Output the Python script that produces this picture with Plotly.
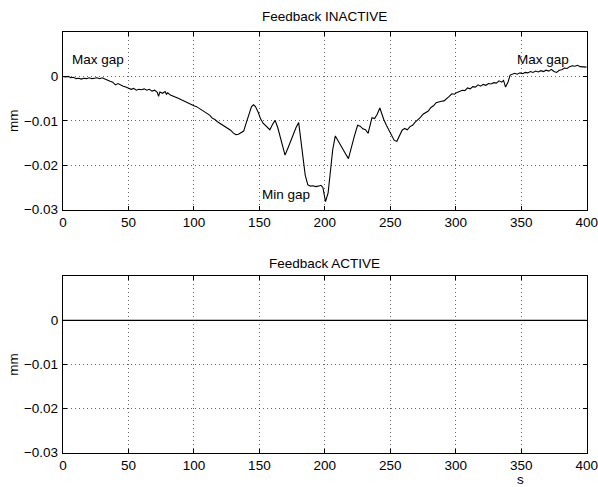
import plotly.graph_objects as go

# ---- data ----
t_inactive = [0, 2, 4, 6, 8, 10, 12, 14, 16, 18, 20, 22, 24, 26, 28, 30, 32, 34, 36, 38,
              40, 42, 44, 46, 48, 50, 52, 54, 56, 58, 60, 62, 64, 66, 68, 70, 72, 73, 74, 76,
              78, 79, 80, 82, 84, 86, 88, 90, 92, 94, 96, 98, 100, 102, 104, 106, 108, 110, 112, 114,
              116, 118, 120, 122, 124, 126, 128, 130, 132, 134, 136, 138, 140, 142, 144, 145.5, 147, 149, 151, 153,
              155.5, 158, 160, 162, 164, 166, 168, 169.6, 172, 175, 178, 180, 182, 184, 185, 187, 189, 191, 193, 195,
              197, 198.5, 200.5, 202.5, 204, 206, 208, 210, 213, 216, 218, 220, 222.5, 225, 227, 229, 231, 233, 235, 236,
              238, 240, 242, 243.5, 245, 247, 249, 251, 253, 255, 257, 259, 261, 263, 265, 267, 269, 271, 273, 275,
              277, 279, 281, 283, 285, 287, 289, 291, 293, 295, 297, 299, 301, 303, 305, 307, 309, 311, 313, 315,
              317, 319, 321, 323, 325, 327, 329, 331, 333, 335, 336.5, 338, 340, 341.5, 343, 345, 347, 349, 351, 353,
              355, 357, 359, 361, 363, 365, 367, 369, 371, 373, 375, 377, 379, 381, 383, 385, 387, 389, 391, 393,
              395, 397, 400]
gap_inactive = [0.0000, -0.0001, 0.0000, -0.0003, -0.0002, -0.0005, -0.0004, -0.0006, -0.0004, -0.0005,
                -0.0003, -0.0005, -0.0004, -0.0003, -0.0005, -0.0003, -0.0006, -0.0009, -0.0011, -0.0013,
                -0.0019, -0.0016, -0.0020, -0.0022, -0.0024, -0.0027, -0.0029, -0.0027, -0.0031, -0.0029,
                -0.0030, -0.0028, -0.0031, -0.0029, -0.0033, -0.0031, -0.0036, -0.0045, -0.0035, -0.0038,
                -0.0034, -0.0040, -0.0037, -0.0042, -0.0044, -0.0047, -0.0049, -0.0052, -0.0055, -0.0058,
                -0.0060, -0.0063, -0.0066, -0.0068, -0.0072, -0.0074, -0.0079, -0.0083, -0.0087, -0.0094,
                -0.0097, -0.0102, -0.0106, -0.0108, -0.0113, -0.0117, -0.0121, -0.0127, -0.0131, -0.0130,
                -0.0127, -0.0123, -0.0104, -0.0085, -0.0068, -0.0064, -0.0068, -0.0080, -0.0096, -0.0106,
                -0.0114, -0.0120, -0.0108, -0.0099, -0.0115, -0.0138, -0.0160, -0.0177, -0.0160, -0.0137,
                -0.0115, -0.0104, -0.0150, -0.0200, -0.0222, -0.0244, -0.0247, -0.0246, -0.0248, -0.0247,
                -0.0245, -0.0250, -0.0282, -0.0262, -0.0220, -0.0165, -0.0134, -0.0145, -0.0160, -0.0175,
                -0.0185, -0.0160, -0.0135, -0.0110, -0.0112, -0.0118, -0.0120, -0.0128, -0.0105, -0.0093,
                -0.0095, -0.0085, -0.0071, -0.0085, -0.0097, -0.0110, -0.0122, -0.0135, -0.0144, -0.0146,
                -0.0133, -0.0121, -0.0117, -0.0120, -0.0113, -0.0110, -0.0103, -0.0098, -0.0092, -0.0085,
                -0.0082, -0.0078, -0.0070, -0.0066, -0.0059, -0.0057, -0.0056, -0.0055, -0.0051, -0.0045,
                -0.0039, -0.0040, -0.0036, -0.0034, -0.0031, -0.0032, -0.0026, -0.0028, -0.0023, -0.0024,
                -0.0019, -0.0022, -0.0018, -0.0020, -0.0016, -0.0017, -0.0014, -0.0015, -0.0010, -0.0013,
                -0.0009, -0.0024, -0.0012, 0.0003, 0.0004, 0.0007, 0.0005, 0.0008, 0.0006, 0.0009,
                0.0008, 0.0011, 0.0009, 0.0012, 0.0010, 0.0013, 0.0011, 0.0014, 0.0012, 0.0016,
                0.0011, 0.0009, 0.0014, 0.0015, 0.0019, 0.0018, 0.0022, 0.0024, 0.0023, 0.0025,
                0.0022, 0.0021, 0.0021]

t_active = [0, 100, 200, 300, 400]
gap_active = [0.0, 0.0, 0.0, 0.0, 0.0]

x_ticks = [0, 50, 100, 150, 200, 250, 300, 350, 400]
y_ticks = [-0.03, -0.02, -0.01, 0]
y_tick_labels = ["\u22120.03", "\u22120.02", "\u22120.01", "0"]

titles = ["Feedback INACTIVE", "Feedback ACTIVE"]
notes = [("Max gap", 5, 0.0037), ("Max gap", 345, 0.0037), ("Min gap", 150.5, -0.0265)]

# ---- figure ----
W, H = 598, 487
FONT = "Liberation Sans, Arial, Helvetica, sans-serif"
FS = 13.5
TFS = 13.5
GRID = "rgba(0,0,0,0.6)"
DOT = "1px,3px"

fig = go.Figure()
fig.add_trace(go.Scatter(x=t_inactive, y=gap_inactive, mode="lines",
                         line=dict(color="black", width=1.1), xaxis="x", yaxis="y",
                         showlegend=False, hoverinfo="skip"))
fig.add_trace(go.Scatter(x=t_active, y=gap_active, mode="lines",
                         line=dict(color="black", width=1.3), xaxis="x2", yaxis="y2",
                         showlegend=False, hoverinfo="skip"))

xdom = [63 / W, 586.7 / W]
ydom_top = [1 - 209.7 / H, 1 - 32 / H]
ydom_bot = [1 - 452.7 / H, 1 - 276.3 / H]

def xaxis(anchor):
    return dict(domain=xdom, range=[0, 400], anchor=anchor, tickvals=x_ticks,
                ticks="inside", ticklen=4, tickcolor="black", showline=True,
                linecolor="black", linewidth=1.3, mirror="ticks", showgrid=True,
                gridcolor=GRID, griddash=DOT, gridwidth=1,
                zeroline=False, automargin=False, ticklabelstandoff=0,
                ticklabeloverflow="allow",
                tickfont=dict(family=FONT, size=TFS, color="black"))

def yaxis(anchor, dom):
    return dict(domain=dom, range=[-0.03, 0.01], anchor=anchor, tickvals=y_ticks,
                ticktext=y_tick_labels, ticks="inside", ticklen=4, tickcolor="black",
                showline=True, linecolor="black", linewidth=1.3, mirror="ticks",
                showgrid=True, gridcolor=GRID, griddash=DOT, gridwidth=1,
                zeroline=False, automargin=False, ticklabelstandoff=1,
                title=dict(text="mm", standoff=2, font=dict(family=FONT, size=TFS, color="black")),
                tickfont=dict(family=FONT, size=TFS, color="black"))

annotations = []
annotations.append(dict(text=titles[0], xref="paper", yref="paper", x=(xdom[0] + xdom[1]) / 2,
                        y=1 - 16.5 / H, xanchor="center", yanchor="middle", showarrow=False,
                        font=dict(family=FONT, size=FS, color="black")))
annotations.append(dict(text=titles[1], xref="paper", yref="paper", x=(xdom[0] + xdom[1]) / 2,
                        y=1 - 263.5 / H, xanchor="center", yanchor="middle", showarrow=False,
                        font=dict(family=FONT, size=FS, color="black")))
for txt, xv, yv in notes:
    annotations.append(dict(text=txt, xref="x", yref="y", x=xv, y=yv, xanchor="left",
                            yanchor="middle", showarrow=False,
                            font=dict(family=FONT, size=FS, color="black")))
annotations.append(dict(text="s", xref="paper", yref="paper", x=520.7 / W, y=1 - 479.5 / H,
                        xanchor="center", yanchor="middle", showarrow=False,
                        font=dict(family=FONT, size=TFS, color="black")))

fig.update_layout(
    width=W, height=H,
    margin=dict(l=0, r=0, t=0, b=0),
    paper_bgcolor="white", plot_bgcolor="white",
    xaxis=xaxis("y"), yaxis=yaxis("x", ydom_top),
    xaxis2=xaxis("y2"), yaxis2=yaxis("x2", ydom_bot),
    annotations=annotations,
    font=dict(family=FONT, size=FS, color="black"),
)

fig.write_html("out.html")
